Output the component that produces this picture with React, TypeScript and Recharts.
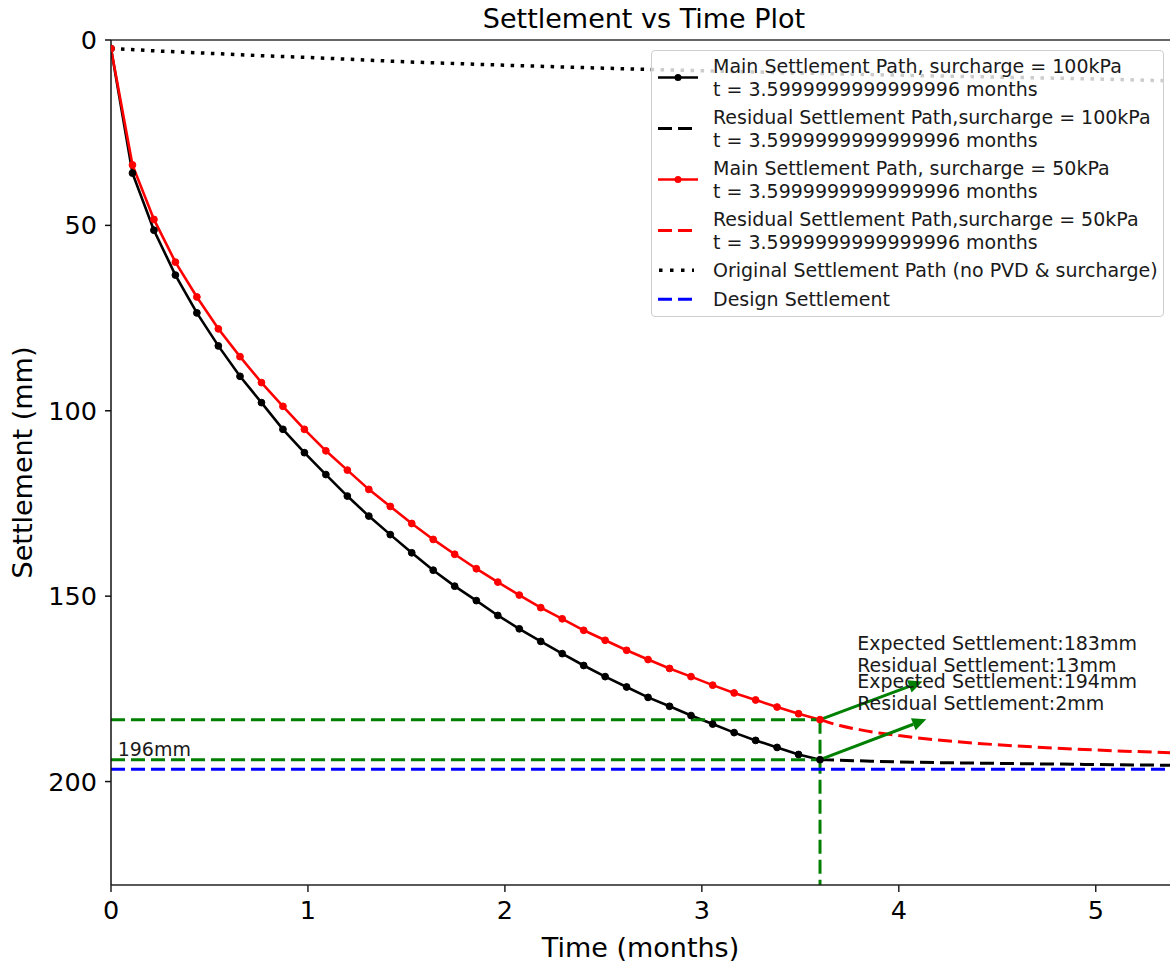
import React from "react";
import {
  LineChart,
  Line,
  XAxis,
  YAxis,
  ReferenceLine,
  ReferenceDot,
} from "recharts";

// surcharge removal time (months)
const surchargeTime = 3.6;

const mainTimes = [
  0, 0.109, 0.218, 0.327, 0.436, 0.545, 0.655, 0.764, 0.873, 0.982, 1.091,
  1.2, 1.309, 1.418, 1.527, 1.636, 1.745, 1.855, 1.964, 2.073, 2.182, 2.291,
  2.4, 2.509, 2.618, 2.727, 2.836, 2.945, 3.055, 3.164, 3.273, 3.382, 3.491,
  3.6,
];
const main100 = [
  2.3, 35.9, 51.3, 63.4, 73.6, 82.5, 90.7, 97.8, 105.0, 111.3, 117.2, 123.0,
  128.4, 133.4, 138.3, 143.0, 147.3, 151.2, 155.2, 158.8, 162.2, 165.5, 168.7,
  171.7, 174.5, 177.3, 179.7, 182.2, 184.5, 186.8, 188.9, 190.8, 192.7, 194.1,
];
const main50 = [
  2.3, 33.7, 48.4, 59.9, 69.3, 77.9, 85.4, 92.4, 98.8, 105.0, 110.8, 116.0,
  121.2, 125.8, 130.4, 134.7, 138.7, 142.6, 146.2, 149.7, 153.1, 156.1, 159.2,
  161.9, 164.6, 167.1, 169.5, 171.7, 174.0, 176.1, 178.0, 179.9, 181.7, 183.3,
];

const residTimes100 = [3.6, 3.8, 4.0, 4.5, 5.0, 5.377];
const resid100 = [194.1, 194.4, 194.7, 195.1, 195.4, 195.6];
const residTimes50 = [3.6, 3.7, 3.8, 3.9, 4.0, 4.2, 4.4, 4.6, 4.8, 5.0, 5.2, 5.377];
const resid50 = [183.3, 184.9, 186.0, 186.9, 187.6, 188.8, 189.7, 190.4, 191.0, 191.5, 191.9, 192.2];

const origTimes = [0, 0.25, 0.5, 0.75, 1, 1.5, 2, 2.5, 3, 3.5, 4, 4.5, 5, 5.377];
const origSettlement = [2.3, 3.0, 3.6, 4.2, 4.7, 5.9, 6.8, 7.6, 8.3, 8.9, 9.5, 10.0, 10.5, 11.0];

const designSettlement = 196.7;
const expected100 = 194.1;
const expected50 = 183.3;

const xTicks = [0, 1, 2, 3, 4, 5];
const yTicks = [0, 50, 100, 150, 200];
const xMax = 5.377;
const yMax = 227.9;

const notes = [
  { t: 3.789, v: 164.5, lines: ["Expected Settlement:183mm", "Residual Settlement:13mm"] },
  { t: 3.789, v: 174.8, lines: ["Expected Settlement:194mm", "Residual Settlement:2mm"] },
  { t: 0.034, v: 193.1, lines: ["196mm"] },
];

const arrows = [
  { from: { x: surchargeTime, y: expected50 }, to: { x: 4.12, y: 173.0 } },
  { from: { x: surchargeTime, y: expected100 }, to: { x: 4.14, y: 183.2 } },
];

const legendItems = [
  { lines: ["Main Settlement Path, surcharge = 100kPa", "t = 3.5999999999999996 months"], color: "#000", kind: "marker" },
  { lines: ["Residual Settlement Path,surcharge = 100kPa", "t = 3.5999999999999996 months"], color: "#000", kind: "dashed" },
  { lines: ["Main Settlement Path, surcharge = 50kPa", "t = 3.5999999999999996 months"], color: "#ff0000", kind: "marker" },
  { lines: ["Residual Settlement Path,surcharge = 50kPa", "t = 3.5999999999999996 months"], color: "#ff0000", kind: "dashed" },
  { lines: ["Original Settlement Path (no PVD & surcharge)"], color: "#000", kind: "dotted" },
  { lines: ["Design Settlement"], color: "#0000ff", kind: "dashed" },
];

const toPoints = (ts: number[], vs: number[]) => ts.map((t, i) => ({ t, v: vs[i] }));

const FONT = "'DejaVu Sans', sans-serif";
const GREEN = "#008000";

function ArrowShape(props: any) {
  const { x1, y1, x2, y2 } = props;
  const dx = x2 - x1;
  const dy = y2 - y1;
  const len = Math.hypot(dx, dy) || 1;
  const ux = dx / len;
  const uy = dy / len;
  const hl = 14;
  const hw = 6.5;
  const bx = x2 - ux * hl;
  const by = y2 - uy * hl;
  return (
    <g>
      <line x1={x1} y1={y1} x2={bx} y2={by} stroke={GREEN} strokeWidth={3} />
      <polygon
        points={`${x2},${y2} ${bx - uy * hw},${by + ux * hw} ${bx + uy * hw},${by - ux * hw}`}
        fill={GREEN}
      />
    </g>
  );
}

function noteShape(lines: string[]) {
  return (props: any) => (
    <text x={props.cx} y={props.cy} fontFamily={FONT} fontSize={19} fill="#1a1a1a">
      {lines.map((l, i) => (
        <tspan key={i} x={props.cx} dy={i === 0 ? 0 : 22}>
          {l}
        </tspan>
      ))}
    </text>
  );
}

function LegendSample({ kind, color, rows }: { kind: string; color: string; rows: number }) {
  const h = rows * 22.5;
  const cy = h / 2;
  return (
    <svg width={61} height={h} style={{ flex: "none", display: "block" }}>
      {kind === "marker" && (
        <>
          <line x1={6} y1={cy} x2={46} y2={cy} stroke={color} strokeWidth={2.6} />
          <circle cx={26} cy={cy} r={3.5} fill={color} />
        </>
      )}
      {kind === "dashed" && (
        <line x1={6} y1={cy} x2={41} y2={cy} stroke={color} strokeWidth={3} strokeDasharray="14 6" />
      )}
      {kind === "dotted" && (
        <line x1={7} y1={cy} x2={42} y2={cy} stroke={color} strokeWidth={3.5} strokeDasharray="3.5 7.5" />
      )}
    </svg>
  );
}

export default function App() {
  const origData = toPoints(origTimes, origSettlement);
  const data100 = toPoints(mainTimes, main100);
  const data50 = toPoints(mainTimes, main50);
  const residData100 = toPoints(residTimes100, resid100);
  const residData50 = toPoints(residTimes50, resid50);

  return (
    <div
      style={{
        position: "absolute",
        left: 0,
        top: 0,
        width: 1170,
        height: 964,
        background: "#fff",
        overflow: "hidden",
        fontFamily: FONT,
      }}
    >
      <LineChart width={1170} height={964} margin={{ top: 40, right: 0, bottom: 0, left: 0 }}>
        <XAxis
          dataKey="t"
          type="number"
          domain={[0, xMax]}
          ticks={xTicks}
          allowDataOverflow
          height={79}
          tickSize={7}
          tickMargin={9}
          stroke="#222"
          strokeWidth={1.5}
          tick={{ fontSize: 25.5, fill: "#000", fontFamily: FONT }}
          label={{
            value: "Time (months)",
            position: "insideBottom",
            offset: 7,
            fontSize: 27,
            fill: "#000",
            fontFamily: FONT,
          }}
        />
        <YAxis
          type="number"
          domain={[0, yMax]}
          reversed
          ticks={yTicks}
          allowDataOverflow
          width={111}
          tickSize={6}
          tickMargin={8}
          stroke="#111"
          strokeWidth={1.5}
          tick={{ fontSize: 25.5, fill: "#000", fontFamily: FONT }}
          label={{
            content: (p: any) => {
              const vb = p.viewBox || { x: 0, y: 40, width: 111, height: 845 };
              const cx = vb.x + 31.5;
              const cy = vb.y + vb.height / 2;
              return (
                <text
                  x={cx}
                  y={cy}
                  transform={`rotate(-90 ${cx} ${cy})`}
                  textAnchor="middle"
                  fontSize={27}
                  fill="#000"
                  fontFamily={FONT}
                >
                  Settlement (mm)
                </text>
              );
            },
          }}
        />
        {/* top spine */}
        <ReferenceLine y={0} stroke="#333" strokeWidth={1.5} />

        <Line
          data={origData}
          dataKey="v"
          type="linear"
          stroke="#000"
          strokeWidth={3.5}
          strokeDasharray="3.5 6.5"
          dot={false}
          activeDot={false}
          isAnimationActive={false}
        />
        <Line
          data={data100}
          dataKey="v"
          type="linear"
          stroke="#000"
          strokeWidth={2.6}
          dot={{ r: 3.4, fill: "#000", stroke: "#000", strokeWidth: 1 }}
          activeDot={false}
          isAnimationActive={false}
        />
        <Line
          data={data50}
          dataKey="v"
          type="linear"
          stroke="#ff0000"
          strokeWidth={2.6}
          dot={{ r: 3.4, fill: "#ff0000", stroke: "#ff0000", strokeWidth: 1 }}
          activeDot={false}
          isAnimationActive={false}
        />
        <Line
          data={residData100}
          dataKey="v"
          type="monotone"
          stroke="#000"
          strokeWidth={3}
          strokeDasharray="14 6"
          dot={false}
          activeDot={false}
          isAnimationActive={false}
        />
        <Line
          data={residData50}
          dataKey="v"
          type="monotone"
          stroke="#ff0000"
          strokeWidth={3}
          strokeDasharray="14 6"
          dot={false}
          activeDot={false}
          isAnimationActive={false}
        />

        <ReferenceLine
          segment={[
            { x: 0, y: expected50 },
            { x: surchargeTime, y: expected50 },
          ]}
          stroke={GREEN}
          strokeWidth={3}
          strokeDasharray="14 6"
        />
        <ReferenceLine
          segment={[
            { x: 0, y: expected100 },
            { x: surchargeTime, y: expected100 },
          ]}
          stroke={GREEN}
          strokeWidth={3}
          strokeDasharray="14 6"
        />
        <ReferenceLine
          segment={[
            { x: surchargeTime, y: expected50 },
            { x: surchargeTime, y: yMax },
          ]}
          stroke={GREEN}
          strokeWidth={3}
          strokeDasharray="14 6"
        />
        <ReferenceLine y={designSettlement} stroke="#0000ff" strokeWidth={3} strokeDasharray="14 6" />

        {arrows.map((a, i) => (
          <ReferenceLine key={`arrow-${i}`} segment={[a.from, a.to]} shape={ArrowShape} />
        ))}
        {notes.map((n, i) => (
          <ReferenceDot key={`note-${i}`} x={n.t} y={n.v} r={1} shape={noteShape(n.lines)} />
        ))}
      </LineChart>

      <div
        style={{
          position: "absolute",
          left: 0,
          width: 1288,
          top: 5,
          textAlign: "center",
          fontSize: 27,
          lineHeight: "27px",
          color: "#000",
        }}
      >
        Settlement vs Time Plot
      </div>

      <div
        style={{
          position: "absolute",
          left: 651,
          top: 50,
          width: 513,
          height: 267,
          boxSizing: "border-box",
          border: "1.3px solid #cfcfcf",
          borderRadius: 4,
          background: "rgba(255,255,255,0.8)",
          paddingTop: 4,
        }}
      >
        {legendItems.map((item, i) => (
          <div key={i} style={{ display: "flex", alignItems: "center", marginBottom: 6 }}>
            <LegendSample kind={item.kind} color={item.color} rows={item.lines.length} />
            <div style={{ fontSize: 19, lineHeight: "22.5px", color: "#1a1a1a", whiteSpace: "pre" }}>
              {item.lines.map((l, j) => (
                <div key={j}>{l}</div>
              ))}
            </div>
          </div>
        ))}
      </div>
    </div>
  );
}
